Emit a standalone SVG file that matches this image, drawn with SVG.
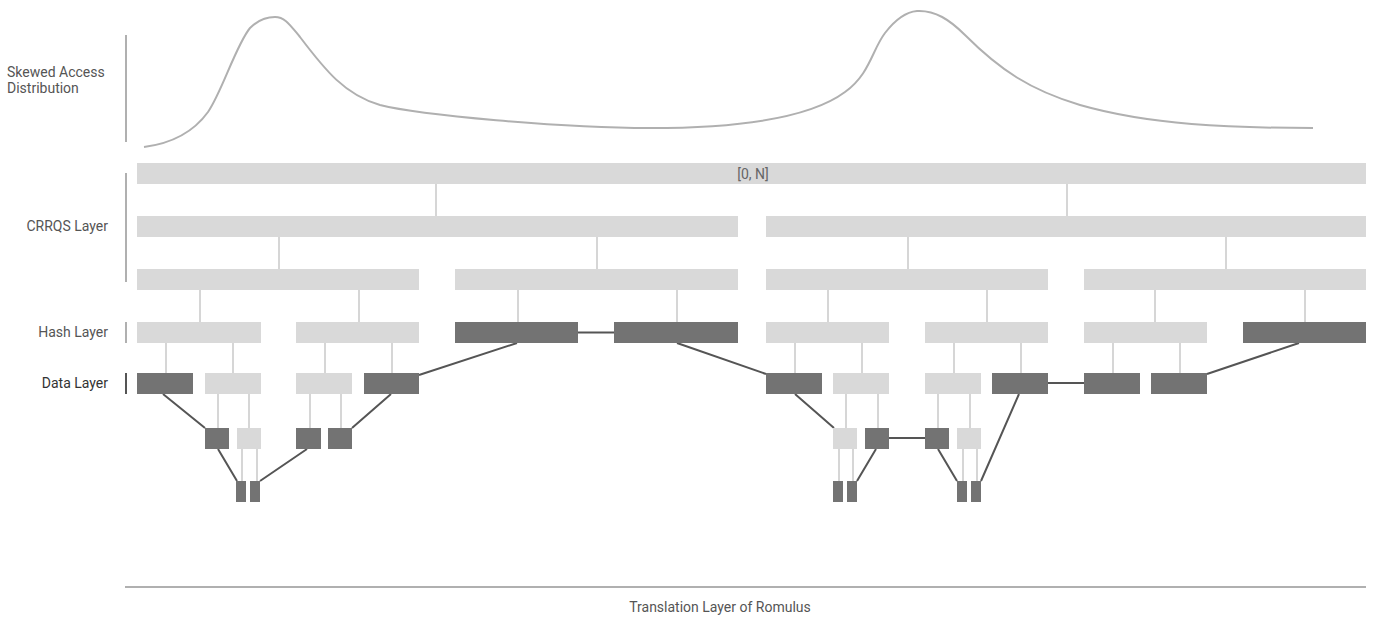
<svg xmlns="http://www.w3.org/2000/svg" width="1400" height="630" viewBox="0 0 1400 630">
<style>
.lb{fill:#d9d9d9}
.dk{fill:#737373}
.lc{stroke:#d6d6d6;stroke-width:2;fill:none}
.dc{stroke:#555555;stroke-width:2;fill:none}
.ax{stroke:#b0b0b0;stroke-width:2;fill:none}
.t{font-family:Roboto,"Liberation Sans",sans-serif;font-size:14px;fill:#555555}
</style>
<rect width="1400" height="630" fill="#ffffff"/>
<g id="labels">
<text class="t" x="7" y="77">Skewed Access</text>
<text class="t" x="7" y="93">Distribution</text>
<text class="t" x="108" y="231" text-anchor="end">CRRQS Layer</text>
<text class="t" x="108" y="337" text-anchor="end">Hash Layer</text>
<text class="t" x="108" y="388" text-anchor="end" style="fill:#333333">Data Layer</text>
<text class="t" x="720" y="612" text-anchor="middle">Translation Layer of Romulus</text>
<line class="ax" x1="126" y1="35" x2="126" y2="142"/>
<line class="ax" x1="126" y1="173" x2="126" y2="282"/>
<line class="ax" x1="126" y1="322" x2="126" y2="343"/>
<line x1="126" y1="373" x2="126" y2="394" stroke="#555555" stroke-width="2"/>
<line class="ax" x1="125" y1="587" x2="1366" y2="587"/>
</g>
<g id="distribution">
<path class="ax" d="M144,147 C175,143 195,130 208,112 C222,92 236,45 250,28 C258,20 266,17 275,17 C285,17 290,25 300,37 C325,70 345,95 380,105 C420,115 560,128 650,128 C740,128 810,118 845,92 C870,74 872,50 885,33 C895,20 905,12 917,11 C935,10 950,20 965,35 C1000,70 1030,90 1080,105 C1150,125 1230,128 1313,128"/>
</g>
<g id="connectors">
<path class="lc" d="M436,184V216M1067,184V216
M279,237V269M597,237V269M908,237V269M1226,237V269
M200,290V322M359,290V322M518,290V322M677,290V322M828,290V322M987,290V322M1155,290V322M1305,290V322
M166,343V373M233,343V373M325,343V373M392,343V373M795,343V373M862,343V373M954,343V373M1021,343V373M1113,343V373M1180,343V373
M218,394V428M249,394V428M310,394V428M341,394V428M846,394V428M878,394V428M938,394V428M970,394V428
M242,449V481M257,449V481M839,449V481M853,449V481M963,449V481M977,449V481"/>
<path class="dc" d="M163,394L205,428M218,449L237,481M307,449L260,481M352,428L391,394M419,375L517,343M578,332.5H614M677,343L766,374M795,394L834,428M876,449L857,481M889,438H925M938,449L957,481M1019,394L981,481M1048,383H1084M1207,374L1299,343"/>
</g>
<g id="root"><rect class="lb" x="137" y="163" width="1229" height="21"/><text class="t" x="753" y="179" text-anchor="middle" style="fill:#666666">[0, N]</text></g>
<g id="c1a"><rect class="lb" x="137" y="216" width="601" height="21"/></g>
<g id="c1b"><rect class="lb" x="766" y="216" width="600" height="21"/></g>
<g id="c2a"><rect class="lb" x="137" y="269" width="282" height="21"/></g>
<g id="c2b"><rect class="lb" x="455" y="269" width="283" height="21"/></g>
<g id="c2c"><rect class="lb" x="766" y="269" width="282" height="21"/></g>
<g id="c2d"><rect class="lb" x="1084" y="269" width="282" height="21"/></g>
<g id="h1"><rect class="lb" x="137" y="322" width="124" height="21"/></g>
<g id="h2"><rect class="lb" x="296" y="322" width="123" height="21"/></g>
<g id="h3"><rect class="dk" x="455" y="322" width="123" height="21"/></g>
<g id="h4"><rect class="dk" x="614" y="322" width="124" height="21"/></g>
<g id="h5"><rect class="lb" x="766" y="322" width="123" height="21"/></g>
<g id="h6"><rect class="lb" x="925" y="322" width="123" height="21"/></g>
<g id="h7"><rect class="lb" x="1084" y="322" width="123" height="21"/></g>
<g id="h8"><rect class="dk" x="1243" y="322" width="123" height="21"/></g>
<g id="d1"><rect class="dk" x="137" y="373" width="56" height="21"/></g>
<g id="d2"><rect class="lb" x="205" y="373" width="56" height="21"/></g>
<g id="d3"><rect class="lb" x="296" y="373" width="56" height="21"/></g>
<g id="d4"><rect class="dk" x="364" y="373" width="55" height="21"/></g>
<g id="d5"><rect class="dk" x="766" y="373" width="56" height="21"/></g>
<g id="d6"><rect class="lb" x="833" y="373" width="56" height="21"/></g>
<g id="d7"><rect class="lb" x="925" y="373" width="56" height="21"/></g>
<g id="d8"><rect class="dk" x="992" y="373" width="56" height="21"/></g>
<g id="d9"><rect class="dk" x="1084" y="373" width="56" height="21"/></g>
<g id="d10"><rect class="dk" x="1151" y="373" width="56" height="21"/></g>
<g id="e1"><rect class="dk" x="205" y="428" width="24" height="21"/></g>
<g id="e2"><rect class="lb" x="237" y="428" width="24" height="21"/></g>
<g id="e3"><rect class="dk" x="296" y="428" width="25" height="21"/></g>
<g id="e4"><rect class="dk" x="328" y="428" width="24" height="21"/></g>
<g id="e5"><rect class="lb" x="833" y="428" width="24" height="21"/></g>
<g id="e6"><rect class="dk" x="865" y="428" width="24" height="21"/></g>
<g id="e7"><rect class="dk" x="925" y="428" width="24" height="21"/></g>
<g id="e8"><rect class="lb" x="957" y="428" width="24" height="21"/></g>
<g id="f1"><rect class="dk" x="236" y="481" width="10" height="21"/></g>
<g id="f2"><rect class="dk" x="250" y="481" width="10" height="21"/></g>
<g id="f3"><rect class="dk" x="833" y="481" width="10" height="21"/></g>
<g id="f4"><rect class="dk" x="847" y="481" width="10" height="21"/></g>
<g id="f5"><rect class="dk" x="957" y="481" width="10" height="21"/></g>
<g id="f6"><rect class="dk" x="971" y="481" width="10" height="21"/></g>
</svg>
